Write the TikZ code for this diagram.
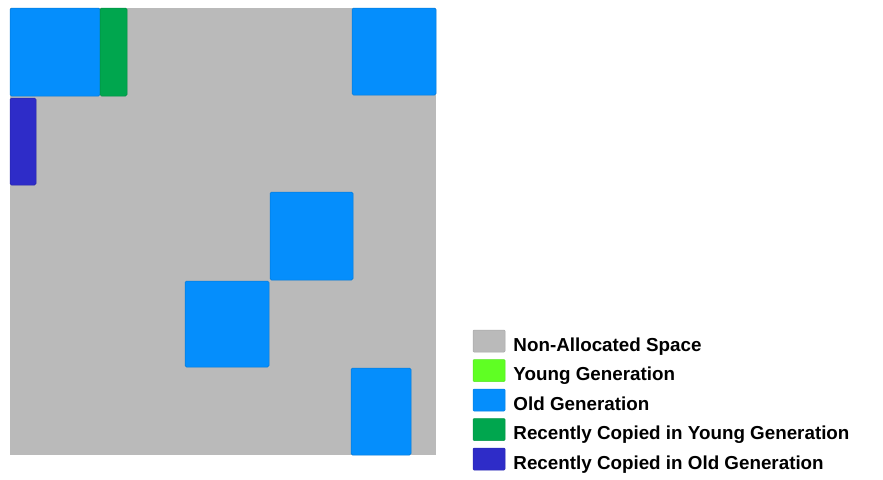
\documentclass[tikz,border=0pt]{standalone}
\usepackage{fontspec}
\setmainfont{Liberation Sans}
\usetikzlibrary{positioning}
\definecolor{heapGray}{RGB}{186,186,186}
\definecolor{youngGreen}{RGB}{95,255,35}
\definecolor{oldBlue}{RGB}{5,142,252}
\definecolor{copyGreen}{RGB}{0,166,78}
\definecolor{copyBlue}{RGB}{46,44,200}

\begin{document}
\begin{tikzpicture}[
    x=1pt, y=-1pt,
    region/.style ={draw=#1!85!black, fill=#1, line width=0.5pt, rounded corners=1.5pt},
    swatch/.style ={rectangle, fill=#1, draw=#1!90!black, line width=0.5pt, rounded corners=1pt, minimum width=32pt, minimum height=22pt, inner sep=0pt},
    legtext/.style={font=\fontsize{18.8}{22}\selectfont\bfseries, inner sep=0pt, anchor=base west}
]
\useasboundingbox (0,0) rectangle (883,479);
% heap
\fill[heapGray] (10,8) rectangle (436,455);
% occupied regions
\draw[region=oldBlue] (10,8) rectangle (100,96);
\draw[region=copyGreen] (100,8) rectangle (127,96);
\draw[region=oldBlue] (352,8) rectangle (436,95);
\draw[region=copyBlue] (10,98) rectangle (36,185);
\draw[region=oldBlue] (270,192) rectangle (353,280);
\draw[region=oldBlue] (185,281) rectangle (269,367);
\draw[region=oldBlue] (351,368) rectangle (411,455);
% legend
\node[swatch=heapGray] (sw1) at (489,341) {};
\node[swatch=youngGreen, below=7pt of sw1] (sw2) {};
\node[swatch=oldBlue, below=7pt of sw2] (sw3) {};
\node[swatch=copyGreen, below=7pt of sw3] (sw4) {};
\node[swatch=copyBlue, below=7pt of sw4] (sw5) {};
\node[legtext] (lb1) at ([xshift=8pt,yshift=1pt]sw1.south east) {Non-Allocated Space};
\node[legtext] (lb2) at ([xshift=8pt,yshift=1pt]sw2.south east) {Young Generation};
\node[legtext] (lb3) at ([xshift=8pt,yshift=1pt]sw3.south east) {Old Generation};
\node[legtext] (lb4) at ([xshift=8pt,yshift=1pt]sw4.south east) {Recently Copied in Young Generation};
\node[legtext] (lb5) at ([xshift=8pt,yshift=1pt]sw5.south east) {Recently Copied in Old Generation};
\end{tikzpicture}
\end{document}
